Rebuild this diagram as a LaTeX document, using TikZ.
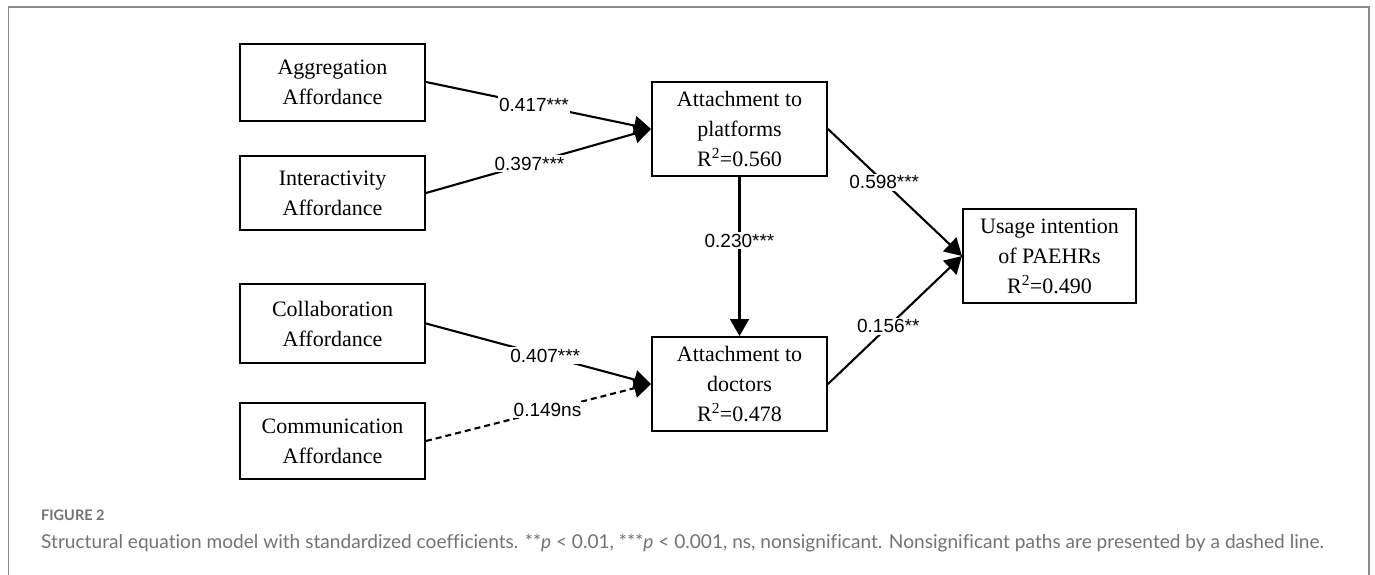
\documentclass[tikz,border=0pt]{standalone}
\usepackage{fontspec}
\setmainfont{Liberation Serif}
\newfontfamily\labfont{Liberation Sans}
\newfontfamily\capfont[Ligatures=NoCommon]{Lato}
\usetikzlibrary{arrows.meta}
\definecolor{framegray}{HTML}{8A8A8A}
\definecolor{capgray}{HTML}{737373}
\begin{document}
\begin{tikzpicture}[x=1pt,y=-1pt,
  box/.style={draw=black,line width=2pt,align=center,inner sep=0pt,
    font=\fontsize{22}{30}\selectfont},
  leftbox/.style={box,minimum width=185pt,minimum height=77pt},
  midbox/.style={box,minimum width=175pt,minimum height=94pt},
  conn/.style={line width=2.1pt,-{Triangle[length=17pt,width=19pt]}},
  coef/.style={font=\labfont\fontsize{19}{19}\selectfont,fill=white,inner sep=1.5pt},
]
\useasboundingbox (0,0) rectangle (1375,574);
\fill[white] (0,0) rectangle (1375,574);
\draw[framegray,line width=1.6pt] (8.5,580) -- (8.5,7) -- (1369,7) -- (1369,580);

\node[leftbox] (agg) at (332.5,82) {Aggregation\\Affordance};
\node[leftbox,minimum height=74pt] (int) at (332.5,193) {Interactivity\\Affordance};
\node[leftbox,minimum height=79pt] (col) at (332.5,323.5) {Collaboration\\Affordance};
\node[leftbox,minimum height=76pt] (com) at (332.5,441) {Communication\\Affordance};
\node[midbox] (plat) at (739.5,129) {Attachment to\\platforms\\R\textsuperscript{2}=0.560};
\node[midbox] (doc) at (739.5,384) {Attachment to\\doctors\\R\textsuperscript{2}=0.478};
\node[midbox,minimum width=173pt] (use) at (1049.5,256) {Usage intention\\of PAEHRs\\R\textsuperscript{2}=0.490};

\draw[conn] (agg.east) -- node[coef,pos=0.48] {0.417***} (plat.west);
\draw[conn] (int.east) -- node[coef,pos=0.46] {0.397***} (plat.west);
\draw[conn] (col.east) -- node[coef,pos=0.53] {0.407***} (doc.west);
\draw[conn,dash pattern=on 6pt off 4pt] (com.east) -- node[coef,pos=0.54] {0.149ns} (doc.west);
\draw[conn] (plat.east) -- node[coef,pos=0.42] {0.598***} (use.west);
\draw[conn] (doc.east) -- node[coef,pos=0.45] {0.156**} (use.west);
\draw[conn] (plat.south) -- node[coef,pos=0.40] {0.230***} (doc.north);

\node[anchor=base west,inner sep=0pt,text=capgray,font=\capfont\bfseries\fontsize{14.5}{14.5}\selectfont] (figlab) at (41,520) {FIGURE 2};
\node[anchor=base west,inner sep=0pt,text=capgray,font=\capfont\fontsize{19.1}{19.1}\selectfont] (cap) at (41,548) {Structural equation model with standardized coefficients. **\textit{p} {\textless} 0.01, ***\textit{p} {\textless} 0.001, ns, nonsignificant. Nonsignificant paths are presented by a dashed line.};
\end{tikzpicture}
\end{document}
